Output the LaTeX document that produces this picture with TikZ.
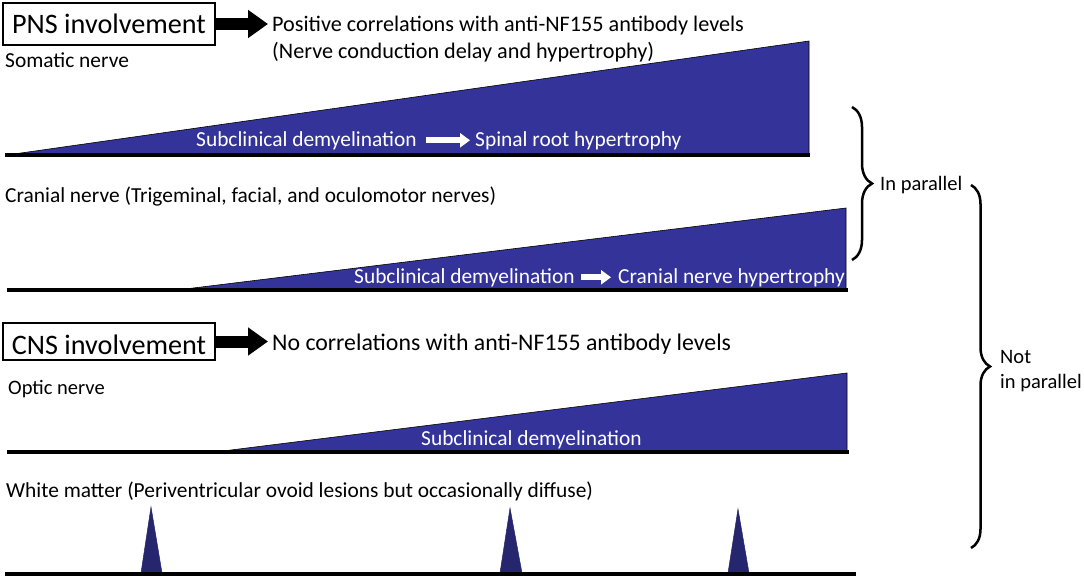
\documentclass[tikz,border=0pt]{standalone}
\usepackage{fontspec}
\setmainfont{Carlito}
\usetikzlibrary{arrows.meta,decorations.pathreplacing}
\definecolor{wedgeblue}{HTML}{333399}
\definecolor{spikeblue}{HTML}{26266E}
\begin{document}
\begin{tikzpicture}[x=1pt,y=-1pt,
  lbl/.style={anchor=base west, inner sep=0pt, font=\fontsize{21.4}{27}\selectfont},
  biglbl/.style={lbl, font=\fontsize{#1}{27}\selectfont},
  wlbl/.style={lbl, text=white},
  headbox/.style={draw, line width=1.2pt, minimum width=212pt, inner sep=0pt, font=\fontsize{28.2}{30}\selectfont},
  blockarrow/.style={line width=12pt, -{Triangle[length=20pt,width=27pt]}, shorten >=4pt},
  whitearrow/.style={white, line width=6pt, -{Triangle[length=10pt,width=14pt]}},
  wedge/.style={fill=wedgeblue, draw=black, line width=0.6pt},
  spike/.style={fill=spikeblue, draw=spikeblue, line width=0.5pt},
  axisline/.style={line width=3.5pt},
  curly/.style={decorate, decoration={brace, amplitude=#1}, line width=2.5pt}
]
\useasboundingbox (0,0) rectangle (1084,578);

% ---------- PNS ----------
\node[headbox, minimum height=42pt] (pns) at (109,24) {PNS involvement};
\node[biglbl=22.2] (corr1) at (272,32) {Positive correlations with anti-NF155 antibody levels};
\node[biglbl=22.2] (corr2) at (272,59) {(Nerve conduction delay and hypertrophy)};
\draw[blockarrow] (pns.east) -- (pns.east -| corr1.west);

\node[lbl] (somatic) at (5,67) {Somatic nerve};
\path[wedge] (7,155) -- (809,41) -- (809,155) -- cycle;
\draw[axisline] (5,155) -- (810,155);
\node[wlbl] (sd1) at (196,146) {Subclinical demyelination};
\node[wlbl] (sr1) at (475,146) {Spinal root hypertrophy};
\draw[whitearrow] ([xshift=9pt]sd1.east) -- ([xshift=-5pt]sr1.west);

\node[lbl] (cranial) at (5,202) {Cranial nerve (Trigeminal, facial, and oculomotor nerves)};
\path[wedge] (177,290) -- (846,208) -- (846,290) -- cycle;
\draw[axisline] (7,290) -- (848,290);
\node[wlbl] (sd2) at (354,283) {Subclinical demyelination};
\node[wlbl] (cr2) at (618,283) {Cranial nerve hypertrophy};
\draw[whitearrow] ([xshift=6pt]sd2.east) -- ([xshift=-7pt]cr2.west);

% ---------- CNS ----------
\node[headbox, minimum height=37pt, text height=26pt, text depth=0pt] (cns) at (109,341.5) {CNS involvement};
\node[biglbl=23.8] (nocorr) at (272,350) {No correlations with anti-NF155 antibody levels};
\draw[blockarrow] (cns.east) -- (cns.east -| nocorr.west);

\node[biglbl=20.5] (optic) at (8,394) {Optic nerve};
\path[wedge] (215,452) -- (847,373) -- (847,452) -- cycle;
\draw[axisline] (7,452) -- (849,452);
\node[wlbl] (sd3) at (421,445) {Subclinical demyelination};

\node[lbl] (white) at (6,497) {White matter (Periventricular ovoid lesions but occasionally diffuse)};
\path[spike] (141,573) -- (151,507) -- (162,573) -- cycle;
\path[spike] (500,573) -- (510,508) -- (522,573) -- cycle;
\path[spike] (728,573) -- (738,509) -- (749,573) -- cycle;
\draw[axisline] (5,574) -- (856,574);

% ---------- braces ----------
\draw[curly=20pt] (852,107) -- (852,260);
\node[biglbl=20.5] (inpar) at (880,190) {In parallel};
\draw[curly=19pt] (971,185) -- (971,548);
\node[biglbl=20.5] (notpar1) at (1000,363) {Not};
\node[biglbl=20.5] (notpar2) at (1000,388) {in parallel};
\end{tikzpicture}
\end{document}
